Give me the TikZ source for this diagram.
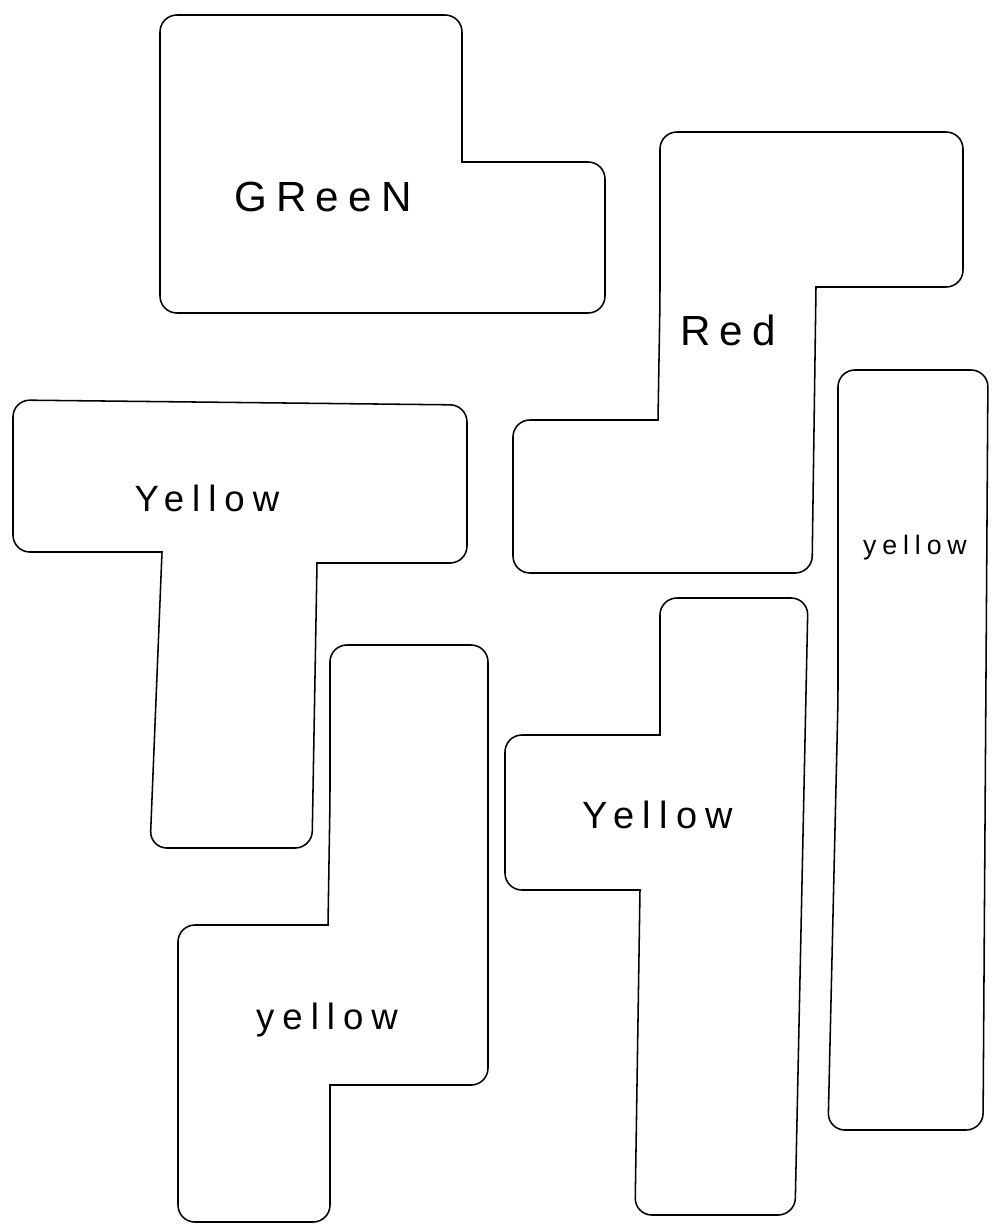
\documentclass[tikz,border=0pt]{standalone}
\usepackage{fontspec}
\usepackage{tikz}
\usetikzlibrary{positioning}
\newfontfamily\handfont[LetterSpace=22]{Liberation Sans}

\begin{document}
\begin{tikzpicture}[
  x=0.025cm, y=-0.025cm,
  piece/.style={draw, line width=1.1pt, rounded corners=12pt},
  lbl/.style={font=\handfont\fontsize{#1}{#1}\selectfont, inner sep=0pt},
  lbl/.default=26
]
\useasboundingbox (0,0) rectangle (994,1226);
% green L
\draw[piece] (160,160) -- (160,15) -- (462,15) [sharp corners] -- (462,162)
  [rounded corners=12pt] -- (605,162) -- (605,313) -- (160,313) -- cycle;
% red S
\draw[piece] (660,300) -- (660,132) -- (963,132) -- (963,287) [sharp corners] -- (816,287)
  [rounded corners=12pt] -- (812,573) -- (513,573) -- (513,420) [sharp corners] -- (658,420)
  [rounded corners=12pt] -- cycle;
% yellow T
\draw[piece] (13,480) -- (13,400) -- (467,405) -- (467,563) [sharp corners] -- (317,563)
  [rounded corners=12pt] -- (312,848) -- (150,848) [sharp corners] -- (162,552)
  [rounded corners=12pt] -- (13,552) -- cycle;
% yellow S, bottom left
\draw[piece] (330,800) -- (330,645) -- (488,645) -- (488,1085) [sharp corners] -- (330,1085)
  [rounded corners=12pt] -- (330,1222) -- (178,1222) -- (178,925) [sharp corners] -- (328,925)
  [rounded corners=12pt] -- cycle;
% yellow T, middle
\draw[piece] (660,660) -- (660,598) -- (808,598) -- (795,1215) -- (635,1215) [sharp corners] -- (640,890)
  [rounded corners=12pt] -- (505,890) -- (505,735) [sharp corners] -- (660,735)
  [rounded corners=12pt] -- cycle;
% yellow I
\draw[piece] (838,700) -- (838,370) -- (988,370) -- (983,1130) -- (828,1130) -- cycle;

\node[lbl=30] (green) at (323,197) {GReeN};
\node[lbl=30] (red) at (728,330) {Red};
\node[lbl] (yellowT) at (207,498) {Yellow};
\node[lbl] (yellowS) at (327,1020) {yellow};
\node[lbl=27] (yellowM) at (658,815) {Yellow};
\node[lbl=19] (yellowI) at (915,548) {yellow};
\end{tikzpicture}
\end{document}
